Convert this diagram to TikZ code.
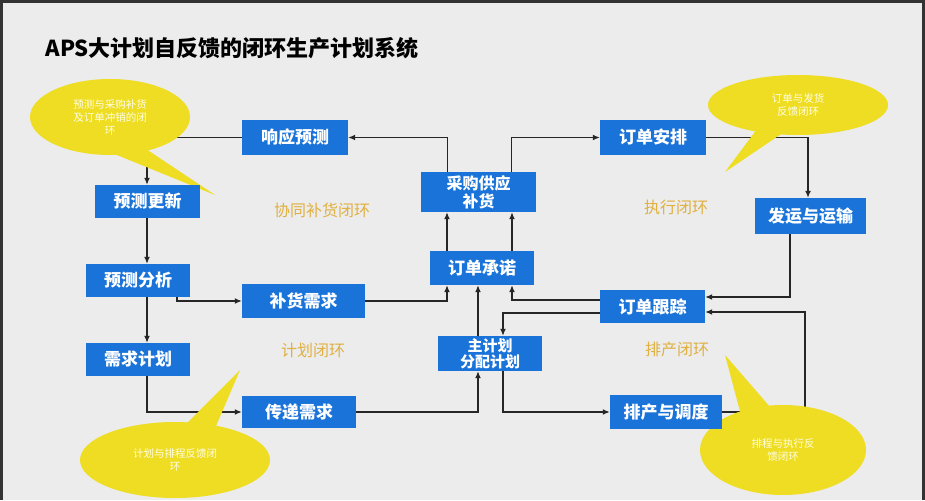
\documentclass[tikz,border=0pt]{standalone}
\usepackage{fontspec}
\setmainfont{Noto Sans CJK SC}
\usetikzlibrary{arrows.meta,calc}
\pgfdeclarelayer{bg}\pgfdeclarelayer{lines}\pgfdeclarelayer{calls}
\pgfsetlayers{bg,lines,calls,main}
\definecolor{bx}{HTML}{1A73D9}
\definecolor{yel}{HTML}{EEDD22}
\definecolor{lbl}{HTML}{E0B040}
\begin{document}
\begin{tikzpicture}[x=1pt,y=-1pt,
 box/.style={fill=bx,text=white,font=\bfseries\fontsize{17}{19}\selectfont,inner sep=0pt,align=center},
 ln/.style={line width=1.3pt,draw=black!85,-{Latex[length=7pt,width=6pt]}},
 loop/.style={text=lbl,font=\fontsize{16}{18}\selectfont},
 ctext/.style={text=white!90!yellow,font=\fontsize{10.5}{13}\selectfont,align=center}]
\begin{pgfonlayer}{bg}
\fill[black!80] (0,0) rectangle (925,500);
\fill[gray!15] (3,3) rectangle (922,500);
\end{pgfonlayer}
\node[anchor=west,font=\bfseries\fontsize{22}{25}\selectfont] (title) at (42,48) {APS大计划自反馈的闭环生产计划系统};
% boxes
\newcommand{\bxx}[6]{\node[box,minimum width=#4-#3,minimum height=#6-#5] (#1) at ({(#3+#4)/2},{(#5+#6)/2}) {#2};}
\bxx{xy}{响应预测}{242}{348}{120}{155}
\bxx{gx}{预测更新}{95}{200}{185}{218}
\bxx{fx}{预测分析}{86}{190}{264}{297}
\bxx{jh}{需求计划}{86}{190}{343}{376}
\bxx{bh}{补货需求}{242}{365}{284}{318}
\bxx{cd}{传递需求}{242}{356}{396}{428}
\node[box,minimum width=115,minimum height=40,font=\bfseries\fontsize{16}{18}\selectfont] (cg) at (478.5,192) {采购供应\\补货};
\bxx{cn}{订单承诺}{430}{534}{251}{285}
\node[box,minimum width=104,minimum height=35,font=\bfseries\fontsize{15}{16}\selectfont] (zj) at (490,353.5) {主计划\\分配计划};
\bxx{ap}{订单安排}{600}{706}{120}{155}
\bxx{fy}{发运与运输}{755}{866}{198}{234}
\bxx{gz}{订单跟踪}{600}{705}{290}{323}
\bxx{pc}{排产与调度}{610}{722}{395}{429}
% loop labels
\node[loop] (l1) at (322,210) {协同补货闭环};
\node[loop] (l2) at (676,207) {执行闭环};
\node[loop] (l3) at (313,350) {计划闭环};
\node[loop] (l4) at (677,349) {排产闭环};
\begin{pgfonlayer}{lines}
\draw[ln] ([xshift=-31]cg.north) |- (xy.east);
\draw[ln] ([xshift=33]cg.north) |- (ap.west);
\draw[ln] (xy.west) -| (gx.north -| 147,0);
\draw[ln] (gx.south -| 147,0) -- (fx.north -| 147,0);
\draw[ln] (fx.south -| 147,0) -- (jh.north -| 147,0);
\draw[ln] (fx.south -| 177,0) |- (bh.west);
\draw[ln] (jh.south -| 147,0) |- (cd.west);
\draw[ln] (bh.east) -| (cn.south -| 447,0);
\draw[ln] (cn.north -| 447,0) -- (cg.south -| 447,0);
\draw[ln] (cn.north -| 512,0) -- (cg.south -| 512,0);
\draw[ln] (zj.north -| 478,0) -- (cn.south -| 478,0);
\draw[ln] (cd.east) -| (zj.south -| 478,0);
\draw[ln] (gz.west |- 0,300) -| (cn.south -| 512,0);
\draw[ln] (gz.west |- 0,313) -| (zj.north -| 503,0);
\draw[ln] (zj.south -| 503,0) |- (pc.west);
\draw[ln] (ap.east) -| (fy.north -| 808,0);
\draw[ln] (fy.south -| 790,0) |- (gz.east |- 0,297);
\draw[ln] (pc.east) -| (805,312) -- (gz.east |- 0,312);
\end{pgfonlayer}
\begin{pgfonlayer}{calls}
\fill[yel] (80,140) -- (215,195) -- (140,145) -- cycle;
\fill[yel] (110,117) ellipse [x radius=80,y radius=38];
\fill[yel] (760,125) -- (725,172) -- (790,128) -- cycle;
\fill[yel] (798,105) ellipse [x radius=90,y radius=30];
\fill[yel] (170,440) -- (240,370) -- (210,440) -- cycle;
\fill[yel] (175,460) ellipse [x radius=95,y radius=38];
\fill[yel] (745,430) -- (725,355) -- (790,430) -- cycle;
\fill[yel] (783,450) ellipse [x radius=83,y radius=45];
\end{pgfonlayer}
\node[ctext] (c1) at (110,117) {预测与采购补货\\及订单冲销的闭\\环};
\node[ctext] (c2) at (798,105) {订单与发货\\反馈闭环};
\node[ctext] (c3) at (175,460) {计划与排程反馈闭\\环};
\node[ctext] (c4) at (783,450) {排程与执行反\\馈闭环};
\end{tikzpicture}
\end{document}
